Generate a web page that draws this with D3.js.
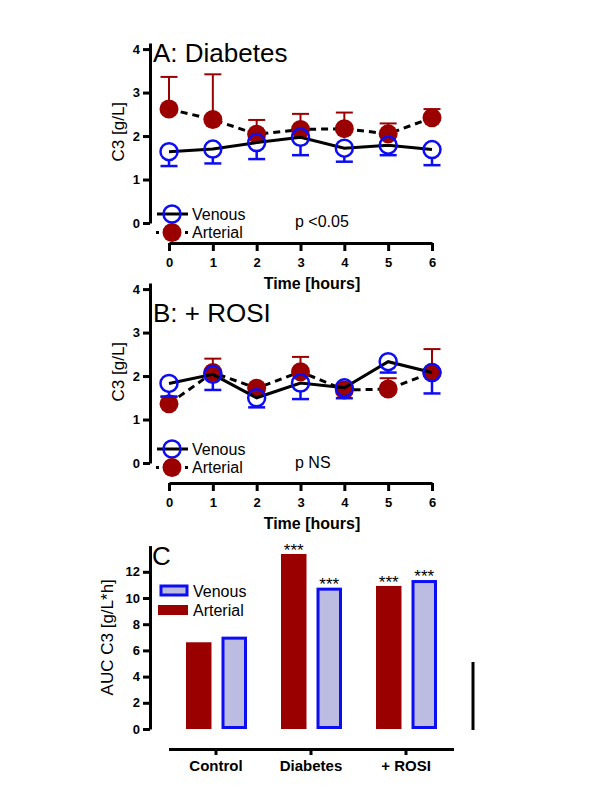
<!DOCTYPE html>
<html>
<head>
<meta charset="utf-8">
<script src="https://cdn.jsdelivr.net/npm/d3@7/dist/d3.min.js"></script>
<style>
  html, body { margin: 0; padding: 0; background: #fff; }
  svg { display: block; font-family: "Liberation Sans", Arial, sans-serif; }
</style>
</head>
<body>
<svg id="chart" width="600" height="800"></svg>
<script>
// ---------- DATA ----------
const hours = [0, 1, 2, 3, 4, 5, 6];
const c3Ticks = [0, 1, 2, 3, 4];

// Panel A: Diabetes
const aVenousMean   = [1.64, 1.70, 1.85, 1.97, 1.72, 1.79, 1.69];
const aVenousSD     = [0.33, 0.33, 0.38, 0.41, 0.31, 0.23, 0.36];
const aArterialMean = [2.62, 2.38, 2.04, 2.15, 2.17, 2.05, 2.42];
const aArterialSD   = [0.74, 1.04, 0.33, 0.36, 0.37, 0.24, 0.20];

// Panel B: + ROSI
const bVenousMean   = [1.83, 2.04, 1.50, 1.84, 1.73, 2.33, 2.08];
const bVenousSD     = [0.30, 0.36, 0.22, 0.37, 0.24, 0.25, 0.48];
const bArterialMean = [1.36, 2.08, 1.72, 2.10, 1.68, 1.70, 2.08];
const bArterialSD   = [0.16, 0.32, 0.08, 0.34, 0.04, 0.25, 0.54];

// Panel C: AUC
const groups        = ["Control", "Diabetes", "+ ROSI"];
const series        = ["Arterial", "Venous"];
const aucArterial   = [6.62, 13.36, 10.92];
const aucVenous     = [7.05, 10.79, 11.37];
const aucArterialSig = ["", "***", "***"];
const aucVenousSig   = ["", "***", "***"];
const aucTicks      = [0, 2, 4, 6, 8, 10, 12];

// ---------- STYLE ----------
const RED = "#9b0000";
const BLUE = "#0c0cf5";
const LAV = "#bcbce2";
const AX = 3;

const svg = d3.select("#chart");

function styleAxis(g) {
  g.selectAll("path.domain").attr("stroke", "#000").attr("stroke-width", AX);
  g.selectAll(".tick line").attr("stroke", "#000").attr("stroke-width", AX);
  g.selectAll(".tick text").attr("fill", "#000")
    .attr("font-family", "Liberation Sans, Arial, sans-serif")
    .attr("font-weight", "bold").attr("font-size", 13);
}

const x = d3.scaleLinear().domain([0, 6]).range([169, 432]);
const fmt = d3.format("d");

function timePanel(opt) {
  const y = d3.scaleLinear().domain([0, 4.14]).range([opt.y0, opt.y0 - 180]);
  const g = svg.append("g");

  // axes
  const ya = g.append("g").attr("transform", "translate(150,0)")
    .call(d3.axisLeft(y).tickValues(c3Ticks).tickFormat(fmt).tickSize(7).tickPadding(3).tickSizeOuter(0));
  styleAxis(ya);
  const xa = g.append("g").attr("transform", `translate(0,${opt.y0 + 20})`)
    .call(d3.axisBottom(x).tickValues(hours).tickFormat(fmt).tickSize(8).tickPadding(7).tickSizeOuter(0));
  styleAxis(xa);

  g.append("text").attr("x", 312).attr("y", opt.y0 + 66).attr("text-anchor", "middle")
    .attr("font-weight", "bold").attr("font-size", 16).text("Time [hours]");
  g.append("text").attr("transform", `translate(124,${y(2.1)}) rotate(-90)`)
    .attr("text-anchor", "middle").attr("font-size", 17).text("C3 [g/L]");

  g.append("text").attr("x", 153).attr("y", opt.titleY).attr("font-size", 26).text(opt.title);

  const art = opt.artMean.map((m, i) => ({ h: hours[i], m, sd: opt.artSD[i] }));
  const ven = opt.venMean.map((m, i) => ({ h: hours[i], m, sd: opt.venSD[i] }));

  // arterial: error bars (up), dashed line, filled circles
  const eA = g.append("g").attr("stroke", RED).attr("stroke-width", 2);
  eA.selectAll("line.v").data(art).join("line")
    .attr("x1", d => x(d.h)).attr("x2", d => x(d.h))
    .attr("y1", d => y(d.m)).attr("y2", d => y(d.m + d.sd));
  eA.selectAll("line.c").data(art).join("line").attr("class", "c")
    .attr("x1", d => x(d.h) - 8.5).attr("x2", d => x(d.h) + 8.5)
    .attr("y1", d => y(d.m + d.sd)).attr("y2", d => y(d.m + d.sd));

  const line = d3.line().x(d => x(d.h)).y(d => y(d.m));
  g.append("path").datum(art).attr("d", line).attr("fill", "none")
    .attr("stroke", "#000").attr("stroke-width", 3).attr("stroke-dasharray", "7,5");
  g.selectAll("circle.art").data(art).join("circle").attr("class", "art")
    .attr("cx", d => x(d.h)).attr("cy", d => y(d.m)).attr("r", 9.5).attr("fill", RED);

  // venous
  g.append("path").datum(ven).attr("d", line).attr("fill", "none")
    .attr("stroke", "#000").attr("stroke-width", 3);
  const eV = g.append("g").attr("stroke", BLUE).attr("stroke-width", 2.5);
  eV.selectAll("line.v").data(ven).join("line")
    .attr("x1", d => x(d.h)).attr("x2", d => x(d.h))
    .attr("y1", d => y(d.m) + 8.5).attr("y2", d => y(d.m - d.sd));
  eV.selectAll("line.c").data(ven).join("line").attr("class", "c")
    .attr("x1", d => x(d.h) - 8.5).attr("x2", d => x(d.h) + 8.5)
    .attr("y1", d => y(d.m - d.sd)).attr("y2", d => y(d.m - d.sd));
  g.selectAll("circle.ven").data(ven).join("circle").attr("class", "ven")
    .attr("cx", d => x(d.h)).attr("cy", d => y(d.m)).attr("r", 8.5)
    .attr("fill", "none").attr("stroke", BLUE).attr("stroke-width", 2.5);

  // legend
  const ly = opt.legY;
  g.append("line").attr("x1", 157).attr("x2", 188).attr("y1", ly).attr("y2", ly)
    .attr("stroke", "#000").attr("stroke-width", 3);
  g.append("circle").attr("cx", 172).attr("cy", ly).attr("r", 8.5)
    .attr("fill", "none").attr("stroke", BLUE).attr("stroke-width", 2.5);
  g.append("text").attr("x", 192).attr("y", ly + 5.5).attr("font-size", 16).text("Venous");
  g.append("line").attr("x1", 156).attr("x2", 188).attr("y1", ly + 18.5).attr("y2", ly + 18.5)
    .attr("stroke", "#000").attr("stroke-width", 3).attr("stroke-dasharray", "3,26");
  g.append("circle").attr("cx", 172).attr("cy", ly + 18.5).attr("r", 9.5).attr("fill", RED);
  g.append("text").attr("x", 192).attr("y", ly + 24).attr("font-size", 16).text("Arterial");

  g.append("text").attr("x", 295).attr("y", opt.pY).attr("font-size", 16).text(opt.pText);
}

timePanel({ y0: 223, title: "A: Diabetes", titleY: 62, venMean: aVenousMean, venSD: aVenousSD,
  artMean: aArterialMean, artSD: aArterialSD, legY: 214, pText: "p <0.05", pY: 227 });
timePanel({ y0: 463, title: "B: + ROSI", titleY: 322, venMean: bVenousMean, venSD: bVenousSD,
  artMean: bArterialMean, artSD: bArterialSD, legY: 449, pText: "p NS", pY: 468 });

// ---------- PANEL C ----------
const gC = svg.append("g");
const yC = d3.scaleLinear().domain([0, 14]).range([729, 545.6]);
const xG = d3.scaleBand().domain(groups).range([168.5, 453.5]);
const xS = d3.scaleBand().domain(series).range([17.5, 78.5]).paddingInner(0.282);

const yCa = gC.append("g").attr("transform", "translate(150,0)")
  .call(d3.axisLeft(yC).tickValues(aucTicks).tickFormat(fmt).tickSize(7).tickPadding(3).tickSizeOuter(0));
styleAxis(yCa);
const xCa = gC.append("g").attr("transform", "translate(0,749)")
  .call(d3.axisBottom(xG).tickSize(6).tickPadding(5).tickSizeOuter(0));
styleAxis(xCa);
xCa.selectAll(".tick text").attr("font-size", 15);

gC.append("text").attr("transform", `translate(113,${yC(7)}) rotate(-90)`)
  .attr("text-anchor", "middle").attr("font-size", 17).text("AUC C3 [g/L*h]");
gC.append("text").attr("x", 152).attr("y", 565).attr("font-size", 26).text("C");

const bars = groups.map((gname, i) => ({ g: gname, art: aucArterial[i], ven: aucVenous[i],
  artSig: aucArterialSig[i], venSig: aucVenousSig[i] }));

gC.selectAll("rect.art").data(bars).join("rect").attr("class", "art")
  .attr("x", d => xG(d.g) + xS("Arterial")).attr("width", xS.bandwidth())
  .attr("y", d => yC(d.art)).attr("height", d => yC(0) - yC(d.art)).attr("fill", RED);
gC.selectAll("rect.ven").data(bars).join("rect").attr("class", "ven")
  .attr("x", d => xG(d.g) + xS("Venous") + 1.5).attr("width", xS.bandwidth() - 3)
  .attr("y", d => yC(d.ven) + 1.5).attr("height", d => yC(0) - yC(d.ven) - 3)
  .attr("fill", LAV).attr("stroke", BLUE).attr("stroke-width", 3);

gC.selectAll("text.sa").data(bars).join("text").attr("class", "sa")
  .attr("x", d => xG(d.g) + xS("Arterial") + xS.bandwidth() / 2).attr("y", d => yC(d.art) + 2)
  .attr("text-anchor", "middle").attr("font-size", 17).text(d => d.artSig);
gC.selectAll("text.sv").data(bars).join("text").attr("class", "sv")
  .attr("x", d => xG(d.g) + xS("Venous") + xS.bandwidth() / 2).attr("y", d => yC(d.ven) + 2)
  .attr("text-anchor", "middle").attr("font-size", 17).text(d => d.venSig);

// legend C
gC.append("rect").attr("x", 161).attr("y", 586).attr("width", 26).attr("height", 9)
  .attr("fill", LAV).attr("stroke", BLUE).attr("stroke-width", 3);
gC.append("text").attr("x", 193).attr("y", 597).attr("font-size", 16).text("Venous");
gC.append("rect").attr("x", 158).attr("y", 605).attr("width", 30).attr("height", 10).attr("fill", RED);
gC.append("text").attr("x", 193).attr("y", 616).attr("font-size", 16).text("Arterial");

// vertical bar at right
gC.append("line").attr("x1", 473).attr("x2", 473).attr("y1", 662).attr("y2", 730)
  .attr("stroke", "#000").attr("stroke-width", 3);
</script>
</body>
</html>
